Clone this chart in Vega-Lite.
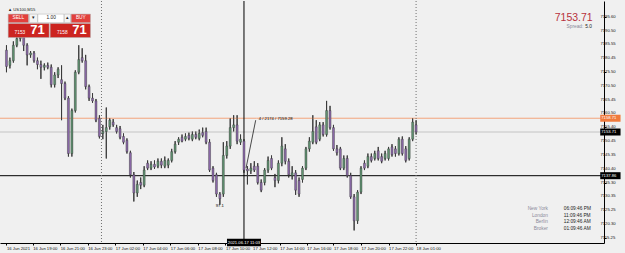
{
"$schema":"https://vega.github.io/schema/vega-lite/v6.json",
"width":604,"height":242,
"autosize":{"type":"none"},
"padding":{"left":0,"top":1,"right":21,"bottom":10},
"background":"#f0f0f0",
"config":{"view":{"stroke":null},"font":"Liberation Sans","text":{"font":"Liberation Sans"},"axis":{"grid":false,"title":null,"labelOverlap":false,"labelSeparation":0,"labelFont":"Liberation Sans"}},
"resolve":{"scale":{"color":"independent","fill":"independent"}},
"datasets":{
"candles":[
{"i":0,"o":7183.4,"h":7185.2,"l":7175.4,"c":7177.5},
{"i":1,"o":7177.9,"h":7180.7,"l":7176.8,"c":7179.6},
{"i":2,"o":7179.6,"h":7186.6,"l":7178.9,"c":7185.2},
{"i":3,"o":7185.2,"h":7189.4,"l":7184.5,"c":7187.6},
{"i":4,"o":7187.6,"h":7190.1,"l":7186.6,"c":7188.3},
{"i":5,"o":7188.3,"h":7189.4,"l":7183.1,"c":7185.2},
{"i":6,"o":7185.2,"h":7185.9,"l":7177.9,"c":7181.7},
{"i":7,"o":7181.7,"h":7183.1,"l":7180.7,"c":7182.4},
{"i":8,"o":7182.4,"h":7183.1,"l":7178.9,"c":7179.6},
{"i":9,"o":7179.6,"h":7180.7,"l":7176.5,"c":7178.2},
{"i":10,"o":7178.2,"h":7179.6,"l":7173.0,"c":7177.2},
{"i":11,"o":7177.2,"h":7178.6,"l":7176.1,"c":7177.9},
{"i":12,"o":7177.9,"h":7178.9,"l":7176.5,"c":7177.2},
{"i":13,"o":7177.2,"h":7178.2,"l":7169.9,"c":7170.9},
{"i":14,"o":7170.9,"h":7175.4,"l":7169.9,"c":7174.4},
{"i":15,"o":7174.4,"h":7177.2,"l":7173.3,"c":7176.5},
{"i":16,"o":7172.7,"h":7177.9,"l":7158.0,"c":7171.3},
{"i":17,"o":7171.3,"h":7172.0,"l":7165.3,"c":7166.0},
{"i":18,"o":7166.0,"h":7166.7,"l":7144.8,"c":7145.9},
{"i":19,"o":7145.9,"h":7162.2,"l":7144.8,"c":7161.5},
{"i":20,"o":7161.5,"h":7176.1,"l":7160.8,"c":7175.4},
{"i":21,"o":7175.4,"h":7185.2,"l":7174.7,"c":7180.0},
{"i":22,"o":7180.7,"h":7184.1,"l":7178.9,"c":7179.6},
{"i":23,"o":7179.6,"h":7181.7,"l":7169.2,"c":7170.2},
{"i":24,"o":7170.2,"h":7170.9,"l":7165.0,"c":7166.0},
{"i":25,"o":7166.0,"h":7167.8,"l":7164.3,"c":7165.0},
{"i":26,"o":7165.0,"h":7165.7,"l":7157.3,"c":7158.0},
{"i":27,"o":7158.7,"h":7159.8,"l":7151.4,"c":7152.1},
{"i":28,"o":7153.2,"h":7156.3,"l":7151.1,"c":7153.9},
{"i":29,"o":7153.9,"h":7162.6,"l":7144.1,"c":7155.3},
{"i":30,"o":7155.6,"h":7158.7,"l":7154.6,"c":7158.0},
{"i":31,"o":7157.3,"h":7158.4,"l":7155.6,"c":7156.3},
{"i":32,"o":7155.3,"h":7156.3,"l":7153.2,"c":7153.9},
{"i":33,"o":7154.9,"h":7155.9,"l":7151.1,"c":7151.8},
{"i":34,"o":7152.1,"h":7153.2,"l":7149.3,"c":7150.0},
{"i":35,"o":7150.7,"h":7151.4,"l":7145.9,"c":7146.6},
{"i":36,"o":7146.2,"h":7146.9,"l":7137.2,"c":7138.2},
{"i":37,"o":7138.2,"h":7139.2,"l":7128.5,"c":7131.6},
{"i":38,"o":7131.6,"h":7136.1,"l":7130.2,"c":7134.7},
{"i":39,"o":7135.4,"h":7137.2,"l":7133.0,"c":7134.4},
{"i":40,"o":7134.4,"h":7141.3,"l":7133.7,"c":7139.9},
{"i":41,"o":7142.4,"h":7143.4,"l":7139.9,"c":7140.6},
{"i":42,"o":7140.6,"h":7143.1,"l":7139.9,"c":7142.0},
{"i":43,"o":7142.0,"h":7143.4,"l":7140.3,"c":7141.0},
{"i":44,"o":7141.3,"h":7144.1,"l":7140.6,"c":7143.1},
{"i":45,"o":7143.1,"h":7144.1,"l":7140.6,"c":7141.7},
{"i":46,"o":7141.3,"h":7144.8,"l":7140.6,"c":7143.4},
{"i":47,"o":7141.7,"h":7144.1,"l":7140.6,"c":7143.4},
{"i":48,"o":7143.4,"h":7147.6,"l":7142.7,"c":7146.6},
{"i":49,"o":7146.6,"h":7150.4,"l":7145.9,"c":7149.3},
{"i":50,"o":7150.0,"h":7151.8,"l":7149.0,"c":7151.1},
{"i":51,"o":7151.8,"h":7152.8,"l":7150.0,"c":7150.4},
{"i":52,"o":7151.1,"h":7153.2,"l":7150.4,"c":7152.1},
{"i":53,"o":7152.5,"h":7153.5,"l":7150.7,"c":7151.4},
{"i":54,"o":7151.1,"h":7153.9,"l":7150.4,"c":7152.8},
{"i":55,"o":7152.8,"h":7153.9,"l":7151.1,"c":7151.8},
{"i":56,"o":7151.4,"h":7154.6,"l":7150.7,"c":7153.2},
{"i":57,"o":7153.5,"h":7155.3,"l":7151.8,"c":7152.5},
{"i":58,"o":7153.9,"h":7155.3,"l":7149.3,"c":7150.0},
{"i":59,"o":7150.0,"h":7151.1,"l":7139.2,"c":7139.9},
{"i":60,"o":7140.6,"h":7141.3,"l":7135.4,"c":7136.1},
{"i":61,"o":7138.2,"h":7138.9,"l":7130.2,"c":7131.2},
{"i":62,"o":7131.2,"h":7131.9,"l":7127.4,"c":7129.5},
{"i":63,"o":7131.2,"h":7150.0,"l":7130.2,"c":7145.2},
{"i":64,"o":7145.2,"h":7150.4,"l":7144.1,"c":7148.6},
{"i":65,"o":7148.6,"h":7158.7,"l":7147.6,"c":7155.3},
{"i":66,"o":7155.3,"h":7159.8,"l":7153.9,"c":7156.3},
{"i":67,"o":7156.3,"h":7159.8,"l":7149.3,"c":7150.4},
{"i":68,"o":7150.0,"h":7152.8,"l":7149.0,"c":7151.1},
{"i":69,"o":7150.4,"h":7151.1,"l":7138.9,"c":7139.9},
{"i":70,"o":7140.3,"h":7141.3,"l":7134.7,"c":7139.6},
{"i":71,"o":7139.6,"h":7142.4,"l":7138.5,"c":7140.6},
{"i":72,"o":7141.3,"h":7143.1,"l":7139.2,"c":7139.9},
{"i":73,"o":7141.3,"h":7142.4,"l":7134.7,"c":7135.4},
{"i":74,"o":7135.4,"h":7136.5,"l":7131.9,"c":7132.6},
{"i":75,"o":7135.4,"h":7140.6,"l":7134.4,"c":7139.9},
{"i":76,"o":7139.9,"h":7144.8,"l":7138.9,"c":7143.4},
{"i":77,"o":7144.1,"h":7145.2,"l":7139.9,"c":7140.6},
{"i":78,"o":7137.2,"h":7138.5,"l":7133.7,"c":7136.1},
{"i":79,"o":7136.1,"h":7143.4,"l":7135.1,"c":7142.4},
{"i":80,"o":7142.4,"h":7151.8,"l":7141.3,"c":7148.6},
{"i":81,"o":7147.6,"h":7149.3,"l":7142.0,"c":7143.1},
{"i":82,"o":7143.1,"h":7144.1,"l":7137.2,"c":7138.2},
{"i":83,"o":7137.9,"h":7141.3,"l":7136.5,"c":7138.9},
{"i":84,"o":7138.9,"h":7139.9,"l":7130.9,"c":7132.6},
{"i":85,"o":7136.1,"h":7137.2,"l":7130.2,"c":7131.2},
{"i":86,"o":7136.5,"h":7141.3,"l":7135.4,"c":7140.6},
{"i":87,"o":7140.6,"h":7148.3,"l":7139.9,"c":7147.6},
{"i":88,"o":7147.6,"h":7151.8,"l":7146.6,"c":7150.4},
{"i":89,"o":7150.0,"h":7159.8,"l":7149.3,"c":7153.9},
{"i":90,"o":7155.6,"h":7158.0,"l":7149.3,"c":7150.0},
{"i":91,"o":7151.1,"h":7157.3,"l":7150.4,"c":7156.3},
{"i":92,"o":7156.3,"h":7157.3,"l":7152.1,"c":7152.8},
{"i":93,"o":7152.8,"h":7165.0,"l":7152.1,"c":7161.5},
{"i":94,"o":7161.5,"h":7163.2,"l":7154.6,"c":7155.3},
{"i":95,"o":7155.3,"h":7156.3,"l":7146.9,"c":7147.6},
{"i":96,"o":7147.6,"h":7149.0,"l":7145.2,"c":7146.2},
{"i":97,"o":7147.6,"h":7148.3,"l":7139.9,"c":7140.6},
{"i":98,"o":7140.6,"h":7145.2,"l":7139.9,"c":7144.1},
{"i":99,"o":7144.1,"h":7145.2,"l":7137.2,"c":7137.9},
{"i":100,"o":7137.9,"h":7138.9,"l":7129.5,"c":7130.2},
{"i":101,"o":7130.2,"h":7131.2,"l":7118.0,"c":7121.5},
{"i":102,"o":7121.5,"h":7132.6,"l":7120.4,"c":7131.9},
{"i":103,"o":7131.9,"h":7141.3,"l":7131.2,"c":7140.6},
{"i":104,"o":7142.4,"h":7143.4,"l":7139.9,"c":7140.6},
{"i":105,"o":7141.3,"h":7145.9,"l":7140.6,"c":7144.8},
{"i":106,"o":7144.8,"h":7145.9,"l":7142.7,"c":7143.4},
{"i":107,"o":7144.1,"h":7146.9,"l":7143.4,"c":7145.9},
{"i":108,"o":7146.9,"h":7148.3,"l":7143.4,"c":7144.1},
{"i":109,"o":7144.8,"h":7145.9,"l":7142.4,"c":7143.1},
{"i":110,"o":7144.1,"h":7146.9,"l":7143.4,"c":7145.9},
{"i":111,"o":7144.1,"h":7148.3,"l":7143.4,"c":7147.6},
{"i":112,"o":7148.3,"h":7149.3,"l":7144.8,"c":7145.5},
{"i":113,"o":7147.6,"h":7148.6,"l":7144.8,"c":7145.9},
{"i":114,"o":7145.9,"h":7151.8,"l":7145.2,"c":7151.1},
{"i":115,"o":7151.1,"h":7152.1,"l":7145.2,"c":7145.9},
{"i":116,"o":7147.6,"h":7148.6,"l":7142.7,"c":7143.4},
{"i":117,"o":7144.1,"h":7151.8,"l":7143.4,"c":7151.1},
{"i":118,"o":7151.1,"h":7158.7,"l":7150.4,"c":7157.3},
{"i":119,"o":7156.3,"h":7158.0,"l":7152.8,"c":7153.71}
],
"ylab":[{"p":7195.60},{"p":7190.50},{"p":7185.55},{"p":7180.45},{"p":7175.50},{"p":7170.50},{"p":7165.45},{"p":7160.50},{"p":7155.40},{"p":7150.45},{"p":7145.35},{"p":7140.40},{"p":7135.30},{"p":7130.35},{"p":7125.25},{"p":7120.30},{"p":7115.25}],
"hl":[{"k":"ask","p":7158.71,"t":"7158.71"},{"k":"bid","p":7153.71,"t":"7153.71"},{"k":"cross","p":7137.86,"t":"7137.86"}],
"sep":[{"i":27.6},{"i":119}],
"cross":[{"i":69,"p":7137.86,"t":"2021.06.17 11:03"}],
"ruler":[{"i":69.6,"p":7140.6,"i2":72.4,"p2":7158.0}],
"notes":[{"i":73.3,"p":7158.4,"t":"4 / 2174 / 7159.28"},{"i":60.8,"p":7127.0,"t":"97.1"}],
"clock":[
{"city":"New York","tm":"06:09:46 PM","p":7125.7},
{"city":"London","tm":"11:09:46 PM","p":7123.3},
{"city":"Berlin","tm":"12:09:46 AM","p":7120.9},
{"city":"Broker","tm":"01:09:46 AM","p":7118.5}],
"ui":[
{"k":"btn","i":0.5,"i2":6.4,"p":7196.5,"p2":7193.4},
{"k":"box","i":6.7,"i2":9.0,"p":7196.5,"p2":7193.4},
{"k":"field","i":9.1,"i2":16.7,"p":7196.5,"p2":7193.4},
{"k":"box","i":16.8,"i2":18.6,"p":7196.5,"p2":7193.4},
{"k":"btn","i":18.8,"i2":24.4,"p":7196.5,"p2":7193.4},
{"k":"big","i":0.5,"i2":12.4,"p":7193.1,"p2":7188.0},
{"k":"big","i":12.7,"i2":24.4,"p":7193.1,"p2":7188.0}]
},
"layer":[
{"data":{"name":"candles"},"mark":{"type":"rule","strokeWidth":1},
 "encoding":{"x":{"field":"i","type":"quantitative","scale":{"domain":[-0.4286,172.14],"nice":false,"zero":false},"title":null,
   "axis":{"values":[0,7.6,15.6,23.6,31.6,39.6,47.6,55.6,63.6,71.5,79.4,87.2,95,103,111,119],
     "labelExpr":"['16 Jun 2021','16 Jun 19:00','16 Jun 21:00','16 Jun 23:00','17 Jun 02:00','17 Jun 04:00','17 Jun 06:00','17 Jun 08:00','17 Jun 10:00','17 Jun 12:00','17 Jun 14:00','17 Jun 16:00','17 Jun 18:00','17 Jun 20:00','17 Jun 22:00','18 Jun 01:00'][indexof([0,7.6,15.6,23.6,31.6,39.6,47.6,55.6,63.6,71.5,79.4,87.2,95,103,111,119],datum.value)]",
     "labelAlign":"left","labelBaseline":"top","labelFontSize":4.2,"labelColor":"#111","tickSize":2,"tickColor":"#000","domainColor":"#000","labelPadding":1,"grid":false,"labelOverlap":false,"labelFlush":false,"title":null}},
   "y":{"field":"l","type":"quantitative","scale":{"domain":[7115.25,7199.44],"nice":false,"zero":false},"title":null,
   "axis":{"orient":"right","values":[7195.60,7190.50,7185.55,7180.45,7175.50,7170.50,7165.45,7160.50,7155.40,7150.45,7145.35,7140.40,7135.30,7130.35,7125.25,7120.30,7115.25],"labels":false,"tickSize":2,"tickColor":"#000","domainColor":"#000","grid":false,"title":null}},
   "y2":{"field":"h"},
   "color":{"value":"#3a3a3a"}}},
{"data":{"name":"ylab"},"mark":{"type":"text","align":"left","baseline":"middle","fontSize":4.2,"color":"#111"},
 "encoding":{"x":{"datum":172.55,"type":"quantitative","title":null},
   "y":{"field":"p","type":"quantitative","title":null},"text":{"field":"p","type":"quantitative","format":".2f"}}},
{"data":{"name":"hl"},"mark":{"type":"rule","strokeWidth":1},
 "encoding":{"y":{"field":"p","type":"quantitative","scale":{"domain":[7115.25,7199.44],"nice":false,"zero":false},"title":null},
   "color":{"field":"k","type":"nominal","scale":{"domain":["ask","bid","cross"],"range":["#f3a47c","#c4c4c4","#000000"]},"legend":null}}},
{"data":{"name":"sep"},"mark":{"type":"rule","strokeDash":[1,2],"color":"#707070"},
 "encoding":{"x":{"field":"i","type":"quantitative","scale":{"domain":[-0.4286,172.14],"nice":false,"zero":false},"title":null}}},
{"data":{"name":"cross"},"mark":{"type":"rule","color":"#000"},
 "encoding":{"x":{"field":"i","type":"quantitative","scale":{"domain":[-0.4286,172.14],"nice":false,"zero":false},"title":null}}},
{"data":{"name":"candles"},"mark":{"type":"rule","strokeWidth":1},
 "encoding":{"x":{"field":"i","type":"quantitative","title":null},
   "y":{"field":"l","type":"quantitative","title":null},
   "y2":{"field":"h"},
   "color":{"value":"#3a3a3a"}}},
{"data":{"name":"candles"},"mark":{"type":"bar","size":2,"stroke":"#3a3a3a","strokeWidth":0.4},
 "encoding":{"x":{"field":"i","type":"quantitative","title":null},
   "y":{"field":"o","type":"quantitative","title":null},
   "y2":{"field":"c"},
   "fill":{"condition":{"test":"datum.c >= datum.o","value":"#5f9270"},"value":"#8b69a9"}}},
{"data":{"name":"ruler"},"mark":{"type":"rule","color":"#000","strokeWidth":0.7},
 "encoding":{"x":{"field":"i","type":"quantitative","title":null},"x2":{"field":"i2"},
   "y":{"field":"p","type":"quantitative","title":null},"y2":{"field":"p2"}}},
{"data":{"name":"notes"},"mark":{"type":"text","align":"left","baseline":"middle","fontSize":4.2,"color":"#000"},
 "encoding":{"x":{"field":"i","type":"quantitative","title":null},
   "y":{"field":"p","type":"quantitative","title":null},"text":{"field":"t"}}},
{"data":{"name":"hl"},"mark":{"type":"bar","size":7},
 "encoding":{"x":{"datum":172.5,"type":"quantitative","title":null},"x2":{"datum":178.4},
   "y":{"field":"p","type":"quantitative","title":null},
   "fill":{"field":"k","type":"nominal","scale":{"domain":["ask","bid","cross"],"range":["#f07a3c","#000000","#000000"]},"legend":null}}},
{"data":{"name":"hl"},"mark":{"type":"text","align":"left","baseline":"middle","fontSize":4.2,"color":"#fff"},
 "encoding":{"x":{"datum":172.8,"type":"quantitative","title":null},
   "y":{"field":"p","type":"quantitative","title":null},"text":{"field":"t"}}},
{"data":{"name":"cross"},"mark":{"type":"bar","size":34,"color":"#000"},
 "encoding":{"x":{"field":"i","type":"quantitative","title":null},
   "y":{"datum":7115.0,"type":"quantitative","title":null},"y2":{"datum":7112.3}}},
{"data":{"name":"cross"},"mark":{"type":"text","align":"center","baseline":"middle","fontSize":4.2,"color":"#fff"},
 "encoding":{"x":{"field":"i","type":"quantitative","title":null},
   "y":{"datum":7113.6,"type":"quantitative","title":null},"text":{"field":"t"}}},
{"data":{"name":"clock"},"mark":{"type":"text","align":"right","baseline":"middle","fontSize":4.8,"color":"#8a8a9a"},
 "encoding":{"x":{"datum":157.3,"type":"quantitative","title":null},
   "y":{"field":"p","type":"quantitative","title":null},"text":{"field":"city"}}},
{"data":{"name":"clock"},"mark":{"type":"text","align":"left","baseline":"middle","fontSize":4.8,"color":"#222"},
 "encoding":{"x":{"datum":161.9,"type":"quantitative","title":null},
   "y":{"field":"p","type":"quantitative","title":null},"text":{"field":"tm"}}},
{"data":{"values":[{"i":170.3,"p":7195.0,"t":"7153.71"}]},"mark":{"type":"text","align":"right","baseline":"middle","fontSize":10.5,"color":"#b8303c"},
 "encoding":{"x":{"field":"i","type":"quantitative","title":null},
   "y":{"field":"p","type":"quantitative","title":null},"text":{"field":"t"}}},
{"data":{"values":[{"i":167.6,"p":7192.0,"t":"Spread:","k":"a"},{"i":170.1,"p":7192.0,"t":"5.0","k":"b"}]},"mark":{"type":"text","align":"right","baseline":"middle","fontSize":4.8},
 "encoding":{"x":{"field":"i","type":"quantitative","title":null},
   "y":{"field":"p","type":"quantitative","title":null},"text":{"field":"t"},
   "color":{"field":"k","type":"nominal","scale":{"domain":["a","b"],"range":["#8a8a9a","#222222"]},"legend":null}}},
{"data":{"name":"ui"},"mark":{"type":"rect","stroke":"#b0b0b0","strokeWidth":0.5},
 "encoding":{"x":{"field":"i","type":"quantitative","title":null},"x2":{"field":"i2"},
   "y":{"field":"p","type":"quantitative","title":null},"y2":{"field":"p2"},
   "fill":{"field":"k","type":"nominal","scale":{"domain":["btn","box","field","big"],"range":["#e2403c","#f4f4f4","#ffffff","#cc2420"]},"legend":null}}},
{"data":{"values":[
 {"i":3.45,"p":7194.95,"t":"SELL","k":"w"},
 {"i":21.6,"p":7194.95,"t":"BUY","k":"w"},
 {"i":13.0,"p":7194.95,"t":"1.00","k":"d"},
 {"i":7.85,"p":7194.95,"t":"▾","k":"d"},
 {"i":17.7,"p":7194.95,"t":"▴","k":"d"},
 {"i":3.9,"p":7189.6,"t":"7153","k":"w"},
 {"i":16.2,"p":7189.6,"t":"7158","k":"w"}]},
 "mark":{"type":"text","align":"center","baseline":"middle","fontSize":4.8},
 "encoding":{"x":{"field":"i","type":"quantitative","title":null},
   "y":{"field":"p","type":"quantitative","title":null},"text":{"field":"t"},
   "color":{"field":"k","type":"nominal","scale":{"domain":["w","d"],"range":["#ffffff","#222222"]},"legend":null}}},
{"data":{"values":[{"i":0.45,"p":7197.9,"t":"▲ US100,M15"}]},
 "mark":{"type":"text","align":"left","baseline":"middle","fontSize":4.2,"color":"#222"},
 "encoding":{"x":{"field":"i","type":"quantitative","title":null},
   "y":{"field":"p","type":"quantitative","title":null},"text":{"field":"t"}}},
{"data":{"values":[{"i":9.0,"p":7190.6,"t":"71"},{"i":21.2,"p":7190.6,"t":"71"}]},
 "mark":{"type":"text","align":"center","baseline":"middle","fontSize":13,"fontWeight":"bold","color":"#fff"},
 "encoding":{"x":{"field":"i","type":"quantitative","title":null},
   "y":{"field":"p","type":"quantitative","title":null},"text":{"field":"t"}}}
]
}
